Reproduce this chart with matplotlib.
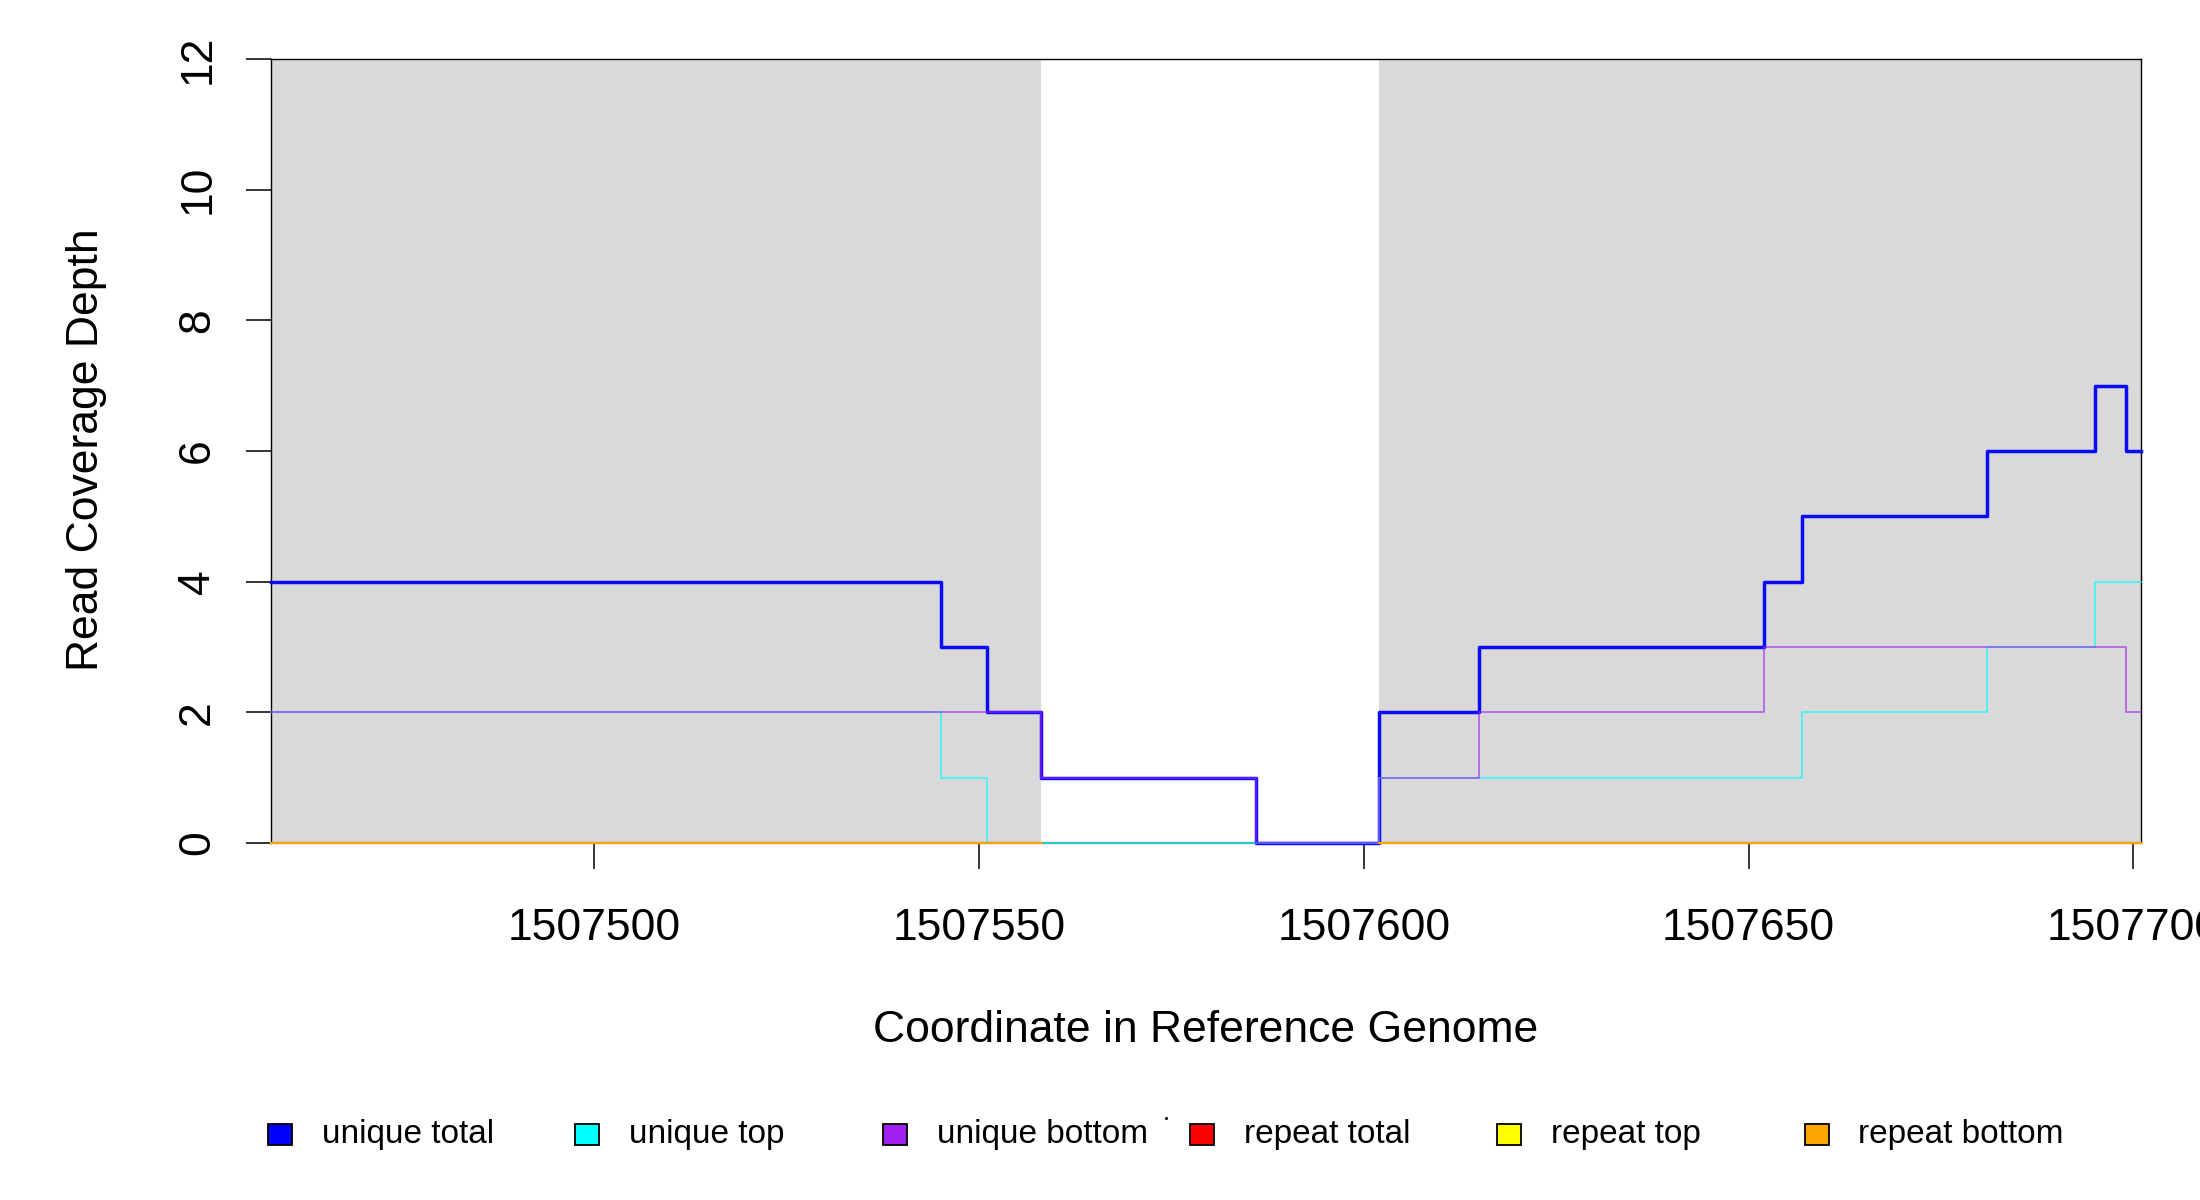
import matplotlib
matplotlib.use("Agg")
import matplotlib.pyplot as plt
from matplotlib.patches import Rectangle
from matplotlib.lines import Line2D
import numpy as np

plt.rcParams['font.family'] = ['Liberation Sans', 'DejaVu Sans']

# ---- data ----
positions = [1507458, 1507545, 1507551, 1507558, 1507586, 1507602, 1507615,
             1507652, 1507657, 1507681, 1507695, 1507699, 1507701]
unique_total = [4, 3, 2, 1, 0, 2, 3, 4, 5, 6, 7, 6, 6]
unique_top = [2, 1, 0, 0, 0, 1, 1, 1, 2, 3, 4, 4, 4]
unique_bottom = [2, 2, 2, 1, 0, 1, 2, 3, 3, 3, 3, 2, 2]
repeat_total = [0, 0, 0, 0, 0, 0, 0, 0, 0, 0, 0, 0, 0]
repeat_top = [0, 0, 0, 0, 0, 0, 0, 0, 0, 0, 0, 0, 0]
repeat_bottom = [0, 0, 0, 0, 0, 0, 0, 0, 0, 0, 0, 0, 0]

feature_starts = [1507458, 1507602]
feature_ends = [1507558, 1507701]

x_ticks = [1507500, 1507550, 1507600, 1507650, 1507700]
y_ticks = [0, 2, 4, 6, 8, 10, 12]

series_names = ["unique total", "unique top", "unique bottom",
                "repeat total", "repeat top", "repeat bottom"]
series_colors = ["#0000FF", "#00FFFF", "#A020F0", "#FF0000", "#FFFF00", "#FFA500"]

# ---- figure ----
W, H = 2200, 1200
fig = plt.figure(figsize=(22, 12), dpi=100)
L, R, T, B = 271, 2141, 59, 843
ax = fig.add_axes([L / W, 1 - B / H, (R - L) / W, (B - T) / H])

ax.set_xlim(1507458, 1507701)
ax.set_ylim(0, 12)

for s, e in zip(feature_starts, feature_ends):
    ax.axvspan(s, e, color="#D9D9D9", lw=0, zorder=0)

pos = np.array(positions, dtype=float)

series_vals = [unique_total, unique_top, unique_bottom,
               repeat_total, repeat_top, repeat_bottom]
widths = [2.5, 1.1, 1.1, 1.1, 1.1, 1.6]
alphas = [0.95, 0.8, 0.75, 0.8, 0.8, 0.95]
for i, (vals, c, lw, a) in enumerate(zip(series_vals, series_colors, widths, alphas)):
    v = np.array(vals, dtype=float)
    if i >= 3:
        # repeat coverage only drawn inside the features
        for s, e in zip(feature_starts, feature_ends):
            m = (pos >= s) & (pos <= e)
            ax.step(pos[m], v[m], where="post", color=c, lw=lw, alpha=a,
                    zorder=3 + i, clip_on=False)
    else:
        ax.step(pos, v, where="post", color=c, lw=lw, alpha=a,
                zorder=3 + i, clip_on=False)

# spines
for sp in ["left", "top", "right"]:
    ax.spines[sp].set_color("black")
    ax.spines[sp].set_linewidth(1.0)
ax.spines["bottom"].set_color("#6E6E6E")
ax.spines["bottom"].set_linewidth(1.6)

ax.set_xticks(x_ticks)
ax.set_xticklabels([str(t) for t in x_ticks], fontsize=32)
ax.set_yticks(y_ticks)
ax.set_yticklabels([str(t) for t in y_ticks], fontsize=32, rotation=90, va="center")
ax.tick_params(axis="x", length=19, width=1.1, pad=28, color="black")
ax.tick_params(axis="y", length=18, width=1.1, pad=20, color="black")
for lab in ax.get_xticklabels():
    lab.set_clip_on(False)

fig.text(1206 / W, 1 - 1031 / H, "Coordinate in Reference Genome",
         fontsize=32, ha="center", va="center")
fig.text(87 / W, 1 - 450 / H, "Read Coverage Depth",
         fontsize=32, ha="center", va="center", rotation=90)

# legend
leg_y = 1 - 1134 / H
for i, (name, c) in enumerate(zip(series_names, series_colors)):
    x0 = 268 + 307.3 * i
    fig.patches.append(Rectangle((x0 / W, leg_y - 10.5 / H), 24 / W, 21 / H,
                                 transform=fig.transFigure, facecolor=c,
                                 edgecolor="black", lw=1.3))
    fig.text((x0 + 54) / W, leg_y, name, fontsize=24, ha="left", va="center")

fig.add_artist(Line2D([1166 / W], [1 - 1118 / H], marker="o", markersize=1.2,
                      color="black", transform=fig.transFigure))

fig.savefig("out.png", dpi=100, facecolor="white")
